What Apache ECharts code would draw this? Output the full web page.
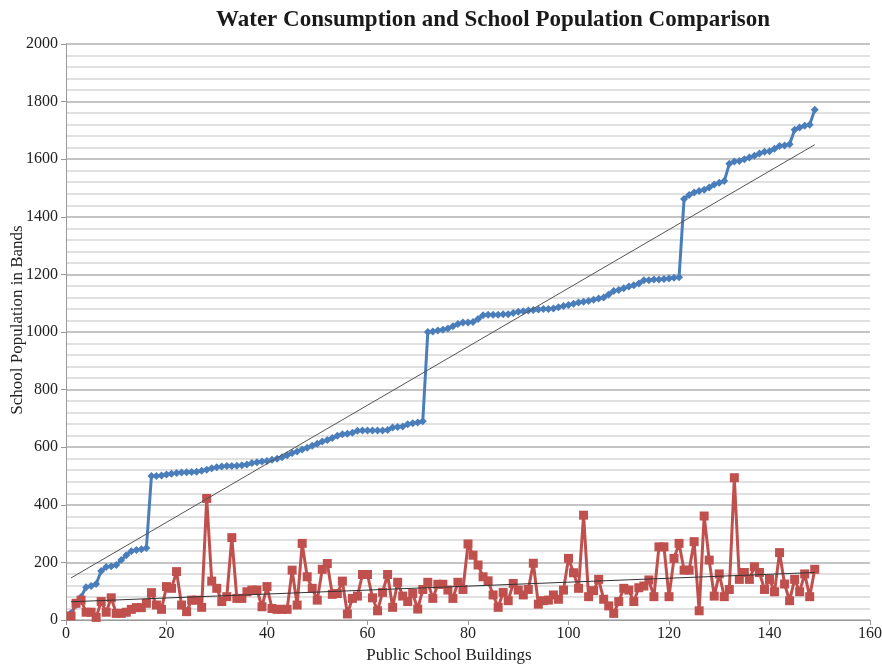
<!DOCTYPE html>
<html>
<head>
<meta charset="utf-8">
<script src="https://cdn.jsdelivr.net/npm/echarts@6/dist/echarts.min.js"></script>
<style>html,body{margin:0;padding:0;background:#fff}#c{width:882px;height:665px}</style>
</head>
<body>
<div id="c"></div>
<script>
const titleText = "Water Consumption and School Population Comparison";
const xAxisName = "Public School Buildings";
const yAxisName = "School Population in Bands";
const xTicks = { min: 0, max: 160, step: 20 };
const yTicks = { min: 0, max: 2000, step: 200 };

// building index 1..149
const buildings = Array.from({length: 149}, (_, i) => i + 1);

const population = [
  24, 52, 80, 114, 118, 125, 170, 184, 187, 191,
  208, 225, 239, 243, 246, 250, 500, 500, 502, 505,
  508, 510, 512, 513, 514, 515, 518, 522, 527, 530,
  533, 535, 535, 536, 537, 540, 545, 548, 550, 552,
  556, 560, 565, 572, 580, 585, 592, 598, 605, 612,
  620, 625, 632, 640, 645, 647, 650, 657, 658, 658,
  658, 658, 658, 660, 668, 670, 672, 680, 683, 686,
  690, 1000, 1002, 1005, 1008, 1012, 1020, 1028, 1033, 1033,
  1035, 1045, 1058, 1060, 1060, 1060, 1062, 1062, 1066, 1070,
  1072, 1075, 1076, 1078, 1080, 1080, 1082, 1086, 1090, 1094,
  1098, 1102, 1105, 1108, 1112, 1116, 1120, 1130, 1142, 1146,
  1152, 1158, 1162, 1168, 1180, 1180, 1182, 1182, 1184, 1186,
  1188, 1190, 1462, 1476, 1484, 1490, 1494, 1502, 1512, 1518,
  1524, 1584, 1592, 1594, 1600, 1606, 1612, 1620, 1626, 1628,
  1636, 1646, 1648, 1652, 1702, 1710, 1716, 1720, 1772
];

const water = [
  14, 58, 69, 27, 27, 9, 64, 27, 77, 23,
  23, 27, 37, 43, 43, 58, 95, 52, 37, 116,
  110, 168, 52, 29, 69, 69, 44, 422, 135, 110,
  64, 81, 286, 75, 75, 98, 104, 104, 46, 116,
  40, 37, 37, 37, 173, 52, 266, 150, 110, 69,
  176, 196, 89, 92, 135, 21, 75, 83, 158, 158,
  77, 32, 96, 158, 44, 131, 83, 64, 92, 38,
  106, 131, 75, 124, 124, 104, 75, 131, 106, 264,
  225, 191, 150, 136, 87, 44, 96, 67, 127, 104,
  87, 106, 197, 55, 67, 69, 87, 72, 104, 214,
  164, 110, 364, 81, 102, 141, 72, 49, 23, 64,
  110, 104, 64, 112, 118, 139, 81, 254, 254, 81,
  214, 266, 173, 173, 272, 32, 361, 208, 83, 160,
  81, 106, 494, 141, 165, 141, 185, 165, 106, 141,
  98, 234, 125, 67, 141, 98, 160, 81, 176
];

function pairs(xs, ys) { return xs.map((x, i) => [x, ys[i]]); }
function trend(xs, ys) {
  const n = xs.length;
  let sx = 0, sy = 0, sxx = 0, sxy = 0;
  for (let i = 0; i < n; i++) { sx += xs[i]; sy += ys[i]; sxx += xs[i]*xs[i]; sxy += xs[i]*ys[i]; }
  const b = (n*sxy - sx*sy) / (n*sxx - sx*sx);
  const a = (sy - b*sx) / n;
  const x0 = xs[0], x1 = xs[n-1];
  return [[x0, a + b*x0], [x1, a + b*x1]];
}

const serif = '"Liberation Serif", "Times New Roman", serif';
const chart = echarts.init(document.getElementById('c'), null, {renderer: 'canvas'});
chart.setOption({
  animation: false,
  backgroundColor: '#fff',
  title: {
    text: titleText, left: 211, top: 4,
    textStyle: { fontFamily: serif, fontSize: 23, fontWeight: 'bold', color: '#1a1a1a' }
  },
  grid: { left: 66, right: 12, top: 44, bottom: 45, containLabel: false, outerBoundsMode: 'none' },
  xAxis: {
    type: 'value', min: xTicks.min, max: xTicks.max, interval: xTicks.step,
    name: xAxisName, nameLocation: 'middle', nameGap: 27, nameMoveOverlap: false,
    nameTextStyle: { fontFamily: serif, fontSize: 17, color: '#222', padding: [0, 38, 0, 0] },
    axisLine: { show: true, lineStyle: { color: '#999', width: 1 } },
    axisTick: { show: true, length: 5, lineStyle: { color: '#999' } },
    axisLabel: { fontFamily: serif, fontSize: 16, color: '#222', margin: 6 },
    splitLine: { show: false }
  },
  yAxis: {
    type: 'value', min: yTicks.min, max: yTicks.max, interval: yTicks.step,
    name: yAxisName, nameLocation: 'middle', nameGap: 40, nameRotate: 90, nameMoveOverlap: false,
    nameTextStyle: { fontFamily: serif, fontSize: 17, color: '#222', padding: [0, 0, 0, 24] },
    axisLine: { show: true, lineStyle: { color: '#999', width: 1 } },
    axisTick: { show: true, length: 5, lineStyle: { color: '#999' } },
    axisLabel: { fontFamily: serif, fontSize: 16, color: '#222', margin: 8,
      formatter: v => String(v) },
    splitLine: { show: true, lineStyle: { color: '#b0b0b0', width: 1.5 } },
    minorTick: { show: false, splitNumber: 5 },
    minorSplitLine: { show: true, lineStyle: { color: '#d6d6d6', width: 1.5 } }
  },
  series: [
    {
      name: 'School Population', type: 'line', data: pairs(buildings, population),
      symbol: 'diamond', symbolSize: 8,
      lineStyle: { color: '#4a7ebb', width: 3 },
      itemStyle: { color: '#4a7ebb' }, z: 3
    },
    {
      name: 'Water Consumption', type: 'line', data: pairs(buildings, water),
      symbol: 'rect', symbolSize: 9,
      lineStyle: { color: '#c0504d', width: 3 },
      itemStyle: { color: '#c0504d' }, z: 3
    },
    {
      name: 'Population trend', type: 'line', data: trend(buildings, population),
      symbol: 'none', lineStyle: { color: '#555', width: 1 }, z: 4
    },
    {
      name: 'Water trend', type: 'line', data: trend(buildings, water),
      symbol: 'none', lineStyle: { color: '#333', width: 1 }, z: 4
    }
  ]
});
</script>
</body>
</html>
